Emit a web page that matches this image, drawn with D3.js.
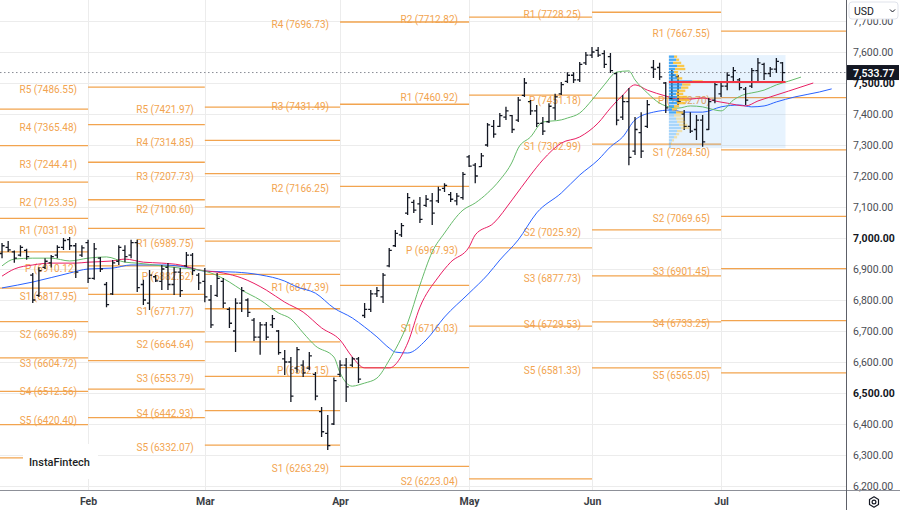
<!DOCTYPE html>
<html>
<head>
<meta charset="utf-8">
<script src="https://cdn.jsdelivr.net/npm/d3@7"></script>
<style>
  html, body { margin: 0; padding: 0; background: #fff; }
  svg { display: block; font-family: Roboto, "Liberation Sans", Arial, sans-serif; }
</style>
</head>
<body>
<div id="chart"></div>
<script>
// ---- data ----
// month labels and the bar index of each month's first session
const months = ['Feb', 'Mar', 'Apr', 'May', 'Jun', 'Jul'];
const monthStart = [14, 33, 55, 76, 96, 117];

// daily bars [open, high, low, close]
const barsJan = [
  [6950,6984,6935,6975],[6970,6990,6955,6962],[6955,6960,6920,6935],[6945,6977,6940,6970],
  [6960,6965,6930,6940],[6880,6887,6790,6800],[6815,6906,6810,6895],[6905,6935,6900,6925],
  [6920,6945,6905,6940],[6945,6977,6935,6970],[6970,7000,6961,6992],[6995,7003,6961,6975],
  [6975,6984,6871,6890],[6945,6977,6939,6968]
];
const barsFeb = [
  [6985,6994,6855,6870],[6870,6984,6865,6965],[6935,6939,6890,6900],[6850,6858,6777,6785],
  [6820,6929,6816,6920],[6925,6977,6913,6970],[6960,6977,6922,6940],[6945,6994,6935,6985],
  [6985,6994,6826,6840],[6850,6865,6784,6800],[6790,6897,6768,6880],[6875,6881,6858,6862],
  [6860,6913,6832,6900],[6905,6919,6832,6850],[6850,6906,6816,6890],[6890,6903,6810,6830],
  [6910,6955,6906,6945],[6945,6952,6881,6895],[6880,6887,6832,6855]
];
const barsMar = [
  [6860,6903,6793,6810],[6800,6848,6710,6720],[6815,6887,6810,6870],[6860,6871,6774,6790],
  [6770,6777,6710,6725],[6700,6806,6632,6790],[6790,6842,6761,6830],[6800,6806,6745,6760],
  [6735,6742,6668,6680],[6680,6729,6623,6720],[6720,6729,6671,6680],[6720,6752,6710,6740],
  [6700,6703,6623,6630],[6610,6639,6558,6600],[6600,6616,6471,6490],[6580,6648,6565,6640],
  [6590,6606,6552,6565],[6580,6632,6574,6620],[6560,6568,6477,6490],[6440,6455,6358,6375],
  [6370,6429,6316,6330],[6400,6550,6397,6540]
];
const barsApr = [
  [6560,6606,6552,6590],[6590,6613,6471,6520],[6590,6616,6584,6610],[6610,6616,6532,6545],
  [6750,6790,6742,6770],[6770,6832,6761,6820],[6820,6842,6810,6830],[6810,6887,6790,6880],
  [6910,6968,6906,6960],[6975,7026,6971,7015],[7010,7048,7003,7040],[7080,7145,7074,7130],
  [7115,7123,7081,7090],[7110,7132,7048,7060],[7105,7139,7100,7125],[7120,7145,7042,7080],
  [7120,7165,7113,7155],[7160,7177,7148,7170],[7140,7148,7116,7125],[7120,7145,7106,7135],
  [7130,7213,7123,7205]
];
const barsMay = [
  [7262,7268,7229,7232],[7235,7242,7177,7200],[7230,7274,7229,7265],[7300,7371,7294,7365],
  [7360,7381,7323,7335],[7360,7403,7358,7395],[7390,7423,7381,7410],[7395,7397,7339,7350],
  [7380,7455,7374,7445],[7460,7516,7455,7500],[7440,7445,7397,7410],[7410,7429,7358,7370],
  [7370,7390,7332,7345],[7375,7435,7371,7425],[7420,7465,7381,7455],[7465,7503,7461,7495],
  [7505,7535,7500,7525],[7525,7535,7500,7510],[7510,7568,7503,7560],[7565,7600,7558,7590]
];
const barsJun = [
  [7590,7616,7581,7600],[7605,7616,7584,7590],[7595,7606,7548,7560],[7585,7597,7532,7540],
  [7530,7535,7364,7380],[7390,7461,7381,7440],[7440,7484,7235,7260],[7280,7390,7268,7350],
  [7340,7406,7258,7280],[7360,7445,7355,7430],[7550,7574,7516,7545],[7550,7565,7510,7520],
  [7500,7503,7403,7420],[7450,7542,7445,7525],[7520,7526,7429,7440],[7400,7413,7348,7360],
  [7360,7406,7339,7345],[7350,7397,7316,7380],[7380,7397,7294,7310],[7350,7452,7348,7440],
  [7445,7503,7435,7495]
];
const barsJul = [
  [7465,7500,7455,7490],[7490,7535,7477,7525],[7520,7552,7500,7540],[7510,7516,7477,7485],
  [7480,7487,7429,7445],[7490,7548,7484,7540],[7540,7581,7500,7565],[7560,7565,7510,7530],
  [7530,7552,7519,7545],[7545,7581,7532,7570],[7565,7568,7503,7533.77]
];
const lastPrice = 7533.77;

// Alligator lines: [bar index, price]
const lips = [[0,6910],[2,6932],[5,6935],[8,6935],[11,6926],[14,6935],[17,6939],[20,6922],[22,6919],
  [26,6910],[29,6903],[31,6900],[34,6887],[37,6858],[39,6832],[42,6800],[45,6758],[47,6739],[49,6694],
  [51,6652],[54,6616],[55,6565],[57,6522],[58,6526],[59,6532],[61,6548],[63,6606],[66,6726],[68,6848],
  [70,6955],[72,7016],[75,7090],[77,7113],[79,7145],[81,7187],[83,7245],[84,7290],[86,7326],[88,7374],
  [91,7381],[92,7387],[94,7403],[96,7445],[98,7494],[100,7535],[102,7539],[103,7510],[105,7468],
  [107,7435],[108,7426],[110,7419],[112,7426],[114,7423],[116,7413],[117,7410],[119,7445],[121,7464],
  [122,7468],[124,7477],[126,7494],[128,7506],[130,7519]];
const teeth = [[0,6877],[2,6900],[5,6913],[8,6919],[12,6919],[14,6922],[18,6926],[20,6932],[23,6922],
  [26,6919],[29,6913],[32,6897],[36,6887],[39,6871],[43,6832],[46,6793],[49,6761],[52,6710],[55,6671],
  [57,6616],[59,6581],[63,6581],[66,6661],[68,6777],[71,6874],[73,6922],[76,6971],[77,7010],[80,7048],
  [83,7123],[86,7203],[88,7252],[91,7306],[94,7326],[97,7371],[99,7419],[101,7461],[103,7494],[105,7477],
  [108,7458],[110,7448],[112,7448],[114,7452],[116,7442],[118,7435],[121,7426],[123,7442],[125,7455],
  [128,7474],[130,7487],[132,7500]];
const jaw = [[0,6839],[5,6858],[11,6887],[14,6900],[18,6903],[21,6913],[26,6913],[30,6906],[33,6893],
  [38,6890],[42,6881],[46,6861],[48,6842],[51,6822],[54,6774],[57,6742],[59,6713],[61,6681],[63,6645],
  [64,6632],[66,6629],[69,6671],[72,6745],[76,6822],[79,6881],[81,6929],[84,6994],[87,7081],[91,7145],
  [94,7203],[97,7252],[99,7294],[101,7326],[103,7381],[106,7406],[109,7413],[111,7406],[114,7406],
  [117,7423],[120,7429],[122,7423],[124,7426],[126,7439],[129,7455],[133,7471],[135,7481]];

// monthly pivot levels; each set is drawn across the following month
const pivotStarts = [-8, 14, 33, 55, 76, 96, 117];
const pivotEnds   = [14, 33, 55, 76, 96, 117, 137.4];
const pivotsDec = [['R5',7415.5],['R4',7298],['R3',7180.5],['R2',7063],['R1',6955.5],['P',6838],
  ['S1',6730.5],['S2',6613],['S3',6505.5],['S4',6398],['S5',6290.5]];
const pivotsJan = [['R5',7486.55],['R4',7365.48],['R3',7244.41],['R2',7123.35],['R1',7031.18],['P',6910.12],
  ['S1',6817.95],['S2',6696.89],['S3',6604.72],['S4',6512.56],['S5',6420.40]];
const pivotsFeb = [['R5',7421.97],['R4',7314.85],['R3',7207.73],['R2',7100.60],['R1',6989.75],['P',6882.62],
  ['S1',6771.77],['S2',6664.64],['S3',6553.79],['S4',6442.93],['S5',6332.07]];
const pivotsMar = [['R4',7696.73],['R3',7431.49],['R2',7166.25],['R1',6847.39],['P',6582.15],['S1',6263.29]];
const pivotsApr = [['R2',7712.82],['R1',7460.92],['P',6967.93],['S1',6716.03],['S2',6223.04]];
const pivotsMay = [['R1',7728.25],['P',7451.18],['S1',7302.99],['S2',7025.92],['S3',6877.73],['S4',6729.53],['S5',6581.33]];
const pivotsJun = [['R1',7667.55],['P',7452.70],['S1',7284.50],['S2',7069.65],['S3',6901.45],['S4',6733.25],['S5',6565.05]];
const pivotSets = [pivotsDec, pivotsJan, pivotsFeb, pivotsMar, pivotsApr, pivotsMay, pivotsJun];

// fixed range volume profile (rows of 10 points)
const vpPrices = [7585,7575,7565,7555,7545,7535,7525,7515,7505,7495,7485,7475,7465,7455,7445,
  7435,7425,7415,7405,7395,7385,7375,7365,7355,7345,7335,7325,7315,7305,7295];
const vpUp   = [5,7,4,8,6,5,7,8,23,13,12,8,7,8,10,8,5,3,7,5,7,8,10,12,8,7,5,3,2,2];
const vpDown = [3,3,8,7,10,4,2,5,10,8,7,8,7,10,10,8,5,5,7,7,8,8,8,8,5,3,3,2,1,0];
const vpRange = [109, 127];
const vpPriceRange = [7290, 7590];
const vpValueLow = 7400;
const vpPoc = 7503;

const priceTicks = [6200,6300,6400,6500,6600,6700,6800,6900,7000,7100,7200,7300,7400,7500,7600,7700];
const boldTicks = [6500, 7000, 7500];

// ---- chart ----
const width = 900, height = 510;
const plotW = 846, plotH = 490;
const pivotColor = '#f2a44f';

const svg = d3.select('#chart').append('svg')
  .attr('width', width)
  .attr('height', height);

const x = d3.scaleLinear().domain([-0.33, 137.33]).range([0, plotW]);
const y = d3.scaleLinear().domain([6200, 7600]).range([486, 52]);

svg.append('clipPath').attr('id', 'plot-clip')
  .append('rect').attr('width', plotW).attr('height', plotH);

const plot = svg.append('g').attr('clip-path', 'url(#plot-clip)');

// grid
plot.append('g').selectAll('line').data(priceTicks).enter().append('line')
  .attr('x1', 0).attr('x2', plotW)
  .attr('y1', d => Math.round(y(d)) + 0.5).attr('y2', d => Math.round(y(d)) + 0.5)
  .attr('stroke', '#ececec');
plot.append('g').selectAll('line').data(monthStart).enter().append('line')
  .attr('x1', d => Math.round(x(d)) + 0.5).attr('x2', d => Math.round(x(d)) + 0.5)
  .attr('y1', 0).attr('y2', plotH)
  .attr('stroke', '#ececec');

// pivots (labels sit left of the period start; the first set's labels are off the chart)
pivotSets.forEach((levels, k) => {
  const x0 = x(pivotStarts[k]), x1 = x(pivotEnds[k]);
  const g = plot.append('g').attr('class', 'pivots');
  g.selectAll('line').data(levels).enter().append('line')
    .attr('x1', x0).attr('x2', x1)
    .attr('y1', d => y(d[1])).attr('y2', d => y(d[1]))
    .attr('stroke', pivotColor).attr('stroke-width', 1.3);
  if (x0 - 11 < 60) return;
  g.selectAll('text').data(levels).enter().append('text')
    .attr('x', x0 - 11)
    .attr('y', d => y(d[1]) + 6)
    .attr('text-anchor', 'end')
    .attr('font-size', 10)
    .attr('fill', pivotColor)
    .text(d => `${d[0]} (${d[1].toFixed(2)})`);
});

// volume profile background
const vpX0 = x(vpRange[0]) - 3, vpX1 = x(vpRange[1]) + 3;
plot.append('rect')
  .attr('x', vpX0).attr('width', vpX1 - vpX0)
  .attr('y', y(vpPriceRange[1])).attr('height', y(vpPriceRange[0]) - y(vpPriceRange[1]))
  .attr('fill', 'rgba(33,150,243,0.11)');

// current price dotted line
plot.append('line')
  .attr('x1', 0).attr('x2', plotW)
  .attr('y1', y(lastPrice)).attr('y2', y(lastPrice))
  .attr('stroke', '#8a8d96').attr('stroke-dasharray', '1.5,2.5');

// alligator
const maLine = d3.line().x(d => x(d[0])).y(d => y(d[1])).curve(d3.curveMonotoneX);
[[jaw, '#2962ff'], [teeth, '#e91e63'], [lips, '#66bb6a']].forEach(([pts, col]) => {
  plot.append('path').datum(pts)
    .attr('d', maLine)
    .attr('fill', 'none')
    .attr('stroke', col)
    .attr('stroke-width', 1);
});

// OHLC bars
const bars = [].concat(barsJan, barsFeb, barsMar, barsApr, barsMay, barsJun, barsJul);
const barG = plot.append('g').attr('stroke', '#131722').attr('stroke-width', 1.3);
barG.selectAll('path').data(bars).enter().append('path')
  .attr('fill', 'none')
  .attr('d', (d, i) => {
    const cx = x(i);
    return `M${cx},${y(d[1])}V${y(d[2])}` +
      `M${cx - 2.6},${y(d[0])}H${cx}` +
      `M${cx},${y(d[3])}H${cx + 2.6}`;
  });

// volume profile rows
const rowH = y(0) - y(10);
const volMax = d3.max(vpUp.map((u, i) => u + vpDown[i]));
const vw = d3.scaleLinear().domain([0, volMax]).range([0, (vpX1 - vpX0) * 0.29]);
const vpG = plot.append('g');
vpPrices.forEach((p, i) => {
  const inVA = p >= vpValueLow;
  const top = y(p + 5) + 0.4, h = rowH - 0.8;
  vpG.append('rect')
    .attr('x', vpX0).attr('y', top).attr('width', vw(vpUp[i])).attr('height', h)
    .attr('fill', inVA ? 'rgba(33,150,243,0.80)' : 'rgba(33,150,243,0.32)');
  vpG.append('rect')
    .attr('x', vpX0 + vw(vpUp[i])).attr('y', top).attr('width', vw(vpDown[i])).attr('height', h)
    .attr('fill', inVA ? 'rgba(251,192,45,0.85)' : 'rgba(251,192,45,0.38)');
});
vpG.append('line')
  .attr('x1', vpX0).attr('x2', vpX1)
  .attr('y1', y(vpPoc)).attr('y2', y(vpPoc))
  .attr('stroke', '#f23645').attr('stroke-width', 2);

// axes
const yAxis = svg.append('g')
  .attr('transform', `translate(${plotW},0)`)
  .call(d3.axisRight(y).tickValues(priceTicks).tickFormat(d3.format(',.2f')).tickSize(0).tickPadding(7));
yAxis.select('.domain').remove();
yAxis.selectAll('text')
  .attr('font-size', 10.5)
  .attr('font-family', 'Roboto, sans-serif')
  .attr('fill', d => boldTicks.includes(d) ? '#131722' : '#4a4d55')
  .attr('font-weight', d => boldTicks.includes(d) ? 700 : 400);

const xAxis = svg.append('g')
  .attr('transform', `translate(0,${plotH})`)
  .call(d3.axisBottom(x).tickValues(monthStart).tickFormat((d, i) => months[i]).tickSize(0).tickPadding(8));
xAxis.select('.domain').remove();
xAxis.selectAll('text')
  .attr('font-size', 10.5)
  .attr('font-family', 'Roboto, sans-serif')
  .attr('font-weight', 700)
  .attr('fill', '#3b3e45');

svg.append('line').attr('x1', 0).attr('x2', width).attr('y1', plotH + 0.5).attr('y2', plotH + 0.5)
  .attr('stroke', '#8d9098');
svg.append('line').attr('x1', plotW + 0.5).attr('x2', plotW + 0.5).attr('y1', 0).attr('y2', height)
  .attr('stroke', '#5d6068');

// last price tag
const tag = svg.append('g').attr('transform', `translate(${plotW + 1},${y(lastPrice)})`);
tag.append('rect').attr('x', 0).attr('y', -7.5).attr('width', 52).attr('height', 15).attr('fill', '#131722');
tag.append('text').attr('x', 6).attr('y', 4)
  .attr('font-size', 10.5).attr('font-weight', 600).attr('fill', '#fff')
  .text(d3.format(',.2f')(lastPrice));

// currency selector
const usd = svg.append('g').attr('transform', `translate(${plotW + 3},2)`);
usd.append('rect').attr('width', 49).attr('height', 17).attr('rx', 3)
  .attr('fill', '#fff').attr('stroke', '#e0e3eb');
usd.append('text').attr('x', 5).attr('y', 12.5).attr('font-size', 10.5).attr('fill', '#131722').text('USD');
usd.append('path').attr('d', 'M41,7.5l2.5,2.5l2.5,-2.5').attr('fill', 'none').attr('stroke', '#131722').attr('stroke-width', 1);

// settings icon
const gear = svg.append('g').attr('transform', 'translate(874,502)')
  .attr('fill', 'none').attr('stroke', '#131722').attr('stroke-width', 1.2);
gear.append('path').attr('d', d3.range(6).map(k => {
  const a = Math.PI / 3 * k + Math.PI / 6;
  return (k ? 'L' : 'M') + (5.2 * Math.cos(a)).toFixed(2) + ',' + (5.2 * Math.sin(a)).toFixed(2);
}).join('') + 'Z').attr('stroke-linejoin', 'round');
gear.append('circle').attr('r', 1.9);

// logo
const logo = svg.append('g').attr('transform', 'translate(23,444)');
logo.append('rect').attr('width', 75).attr('height', 35).attr('fill', '#fff');
logo.append('text').attr('x', 6).attr('y', 22)
  .attr('font-size', 11).attr('font-weight', 500).attr('fill', '#1d1f24')
  .text('InstaFintech');
</script>
</body>
</html>
